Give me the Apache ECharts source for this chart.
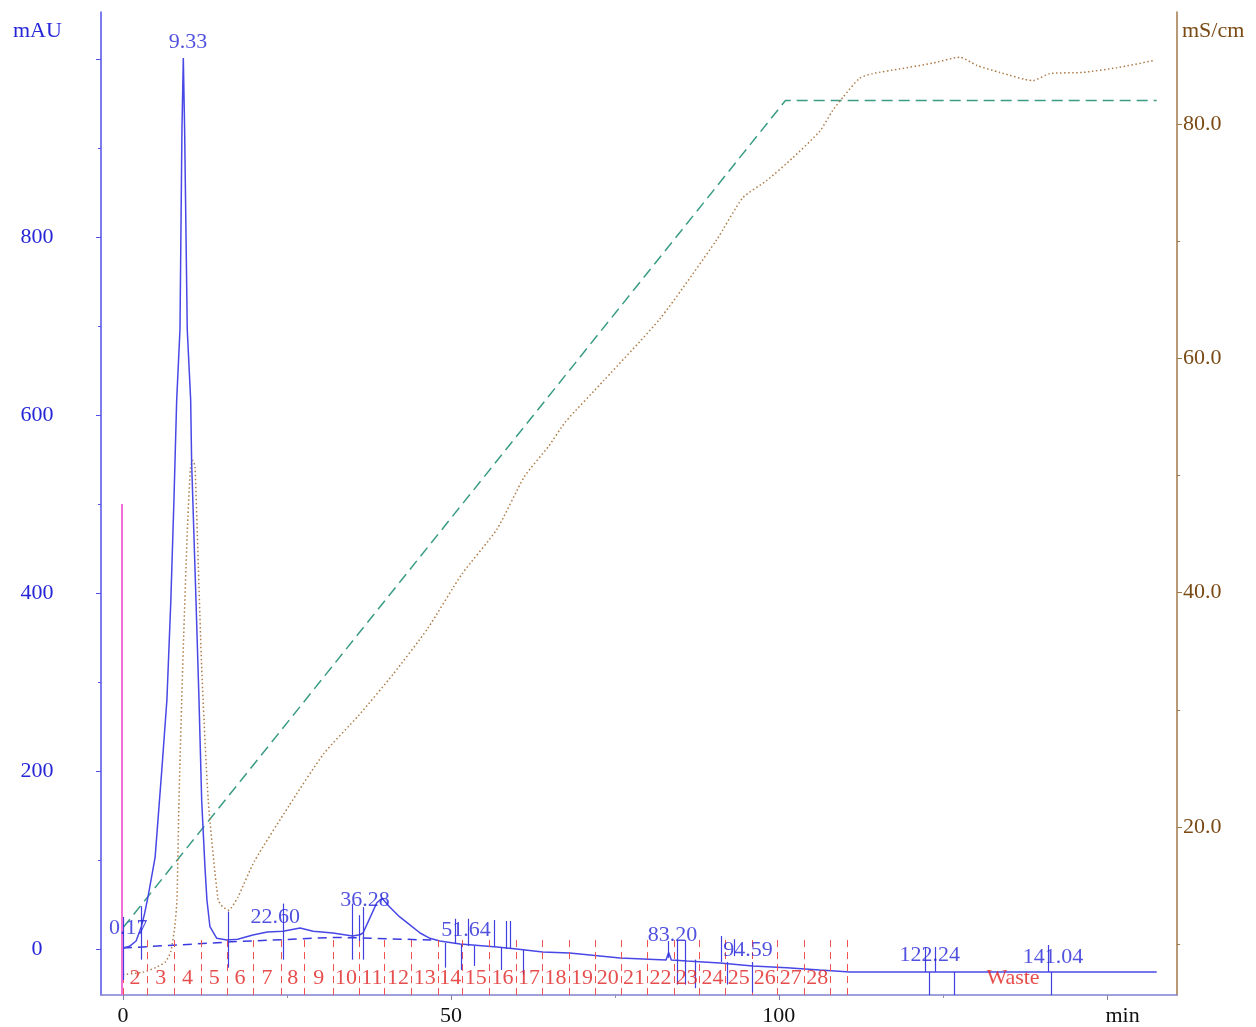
<!DOCTYPE html>
<html><head><meta charset="utf-8">
<script src="https://cdn.jsdelivr.net/npm/echarts@6/dist/echarts.min.js"></script>
<style>html,body{margin:0;padding:0;background:#fff}#c{width:1256px;height:1027px}</style>
</head><body><div id="c"></div>
<script>
// ---- data ----
const uvData = [[0,1],[1,3],[2,9],[2.8,25],[3.3,40],[3.8,58],[4.9,103],[5.95,204],[6.7,280],[7.3,392],[7.77,504],[8.19,617],[8.69,696],[8.99,920],[9.2,1001],[9.4,920],[9.8,696],[10.32,617],[10.47,546],[11.13,392],[11.59,280],[12.0,167],[12.5,92],[12.8,55],[13.26,25],[14.3,12],[15.85,10],[17.5,11],[19.8,15.7],[22,19],[24.4,20],[27,23.6],[29,20],[32,18],[35,14.6],[36.1,16],[36.6,18],[37.65,35],[38.7,52],[39.5,57],[40.7,47],[42.2,36],[43.75,27],[45.3,18],[46.8,12],[48.3,9],[51.4,5.6],[57,2.2],[60,0],[64,-3.4],[68.1,-4.5],[75.8,-10],[82.8,-12.4],[83.2,-4],[83.6,-12.4],[86,-13.5],[91,-15.7],[96,-19],[101.2,-21],[106.25,-23.6],[110.8,-25.8],[157.6,-25.8]];
const baselineData = [[0,1],[16.5,8],[32,13],[36.5,12.4],[47,10]];
const condData = [[0,7.4],[3,7.6],[5,8.0],[6.5,8.5],[7.3,9.4],[7.9,11.5],[8.23,13.8],[8.54,22.3],[9.1,33.6],[9.8,45.1],[10.3,50.7],[10.67,51.3],[10.98,50.7],[11.33,45.1],[12.0,33.6],[13.0,22.3],[14.5,13.8],[15.2,13.2],[16.1,12.9],[17.5,14.0],[20.06,17.1],[25.3,21.8],[30.6,26.25],[35.9,29.5],[41.2,33.05],[46.4,36.9],[51.7,41.6],[57.0,45.4],[61.2,49.9],[64.9,52.5],[67.5,54.6],[73.3,58.1],[81.9,63.4],[90.5,70.1],[94.5,73.7],[98.2,75.2],[102.1,77.1],[106.25,79.4],[108.2,81.15],[109.8,82.3],[112.3,83.9],[114.3,84.3],[118.4,84.7],[123.5,85.2],[127.6,85.7],[130.2,85.0],[133.7,84.4],[138.7,83.7],[141.3,84.3],[146.3,84.4],[151.5,84.8],[157.0,85.4]];
const gradData = [[0,11.4],[101,82],[157.6,82]];
const injection = [-0.15, 500];
// [time, top mAU, bottom mAU]
const peakMarkers = [[0,36,-35],[2.8,48,-12],[16.1,42,-21],[24.5,51,-12],[34.9,51,-12],[36.05,38,9],[36.6,47,-12],[49.2,6.7,-21],[50.7,34,5.6],[51.6,5.6,-23.6],[52.7,34,3.4],[53.6,3.4,-19],[56.55,32.6,2.2],[57.6,2.2,-23.6],[58.5,31.5,0],[59.1,31.5,0],[61.1,-1.1,-29],[83.1,9,-10],[84.45,10,-40],[85.8,10,-40],[87.3,-12,-44],[91.2,14.6,-14.6],[92.2,-14.6,-40],[93.2,11,-8],[96.0,-14.6,-49],[122.3,2.2,-25.8],[123.0,-25.8,-51.7],[123.8,2.2,-25.8],[126.7,-25.8,-51.7],[141.0,4.5,-25.8],[141.5,-25.8,-51.7]];
const peakLabels = [[9.9,1019,'9.33'],[0.8,23.6,'0.17'],[23.2,36,'22.60'],[36.9,55,'36.28'],[52.3,21,'51.64'],[83.8,15.7,'83.20'],[95.3,-1,'94.59'],[123,-6.7,'122.24'],[141.8,-9,'141.04']];
const fractionBounds = [0,3.7,7.8,11.9,15.9,19.8,24.1,27.7,32,36,39.9,44,48,51.8,55.8,59.9,63.9,68,71.95,75.9,79.9,84,87.9,91.9,95.9,99.8,103.8,107.9,110.5];
const fractionNames = ['2','3','4','5','6','7','8','9','10','11','12','13','14','15','16','17','18','19','20','21','22','23','24','25','26','27','28'];
const fractionTop = 10, fractionLabelY = -32.6;
const wasteLabel = [135.7, -32.6, 'Waste'];
const xTickValues = [0,50,100,150], xMinorTicks = [25,75,125];
const xLabelValues = [0,50,100,152.4];
const yLeftLabels = [0,200,400,600,800], yLeftTicks = [0,200,400,600,800,1000], yLeftMinor = [100,300,500,700,900];
const yRightLabels = [20,40,60,80], yRightMinor = [10,30,50,70];
const X_MIN = -3.35, X_MAX = 160.7, YL_MIN = -51.7, YL_MAX = 1052.8, YR_MIN = 5.66, YR_MAX = 89.56;

// ---- build ----
const FONT = 'Liberation Serif';
const BLUE = '#4848e6', BLUE_T = '#2626d8', BROWN = '#ad7c48', BROWN_T = '#7a4a14';

const markLines = [];
fractionBounds.forEach(t => markLines.push([{coord:[t,fractionTop], lineStyle:{color:'#f05050', type:[7,5], width:1}},{coord:[t,YL_MIN]}]));
peakMarkers.forEach(m => markLines.push([{coord:[m[0],m[1]], lineStyle:{color:'#4040e0', type:'solid', width:1.2}},{coord:[m[0],m[2]]}]));
markLines.push([{coord:[injection[0],YL_MIN], lineStyle:{color:'#f070d8', type:'solid', width:2}},{coord:[injection[0],injection[1]]}]);

const fracLabelData = fractionNames.map((n,i)=>[(fractionBounds[i]+fractionBounds[i+1])/2, fractionLabelY, n]);
fracLabelData.push(wasteLabel);

const chart = echarts.init(document.getElementById('c'), null, {renderer:'canvas'});
const axisCommon = {splitLine:{show:false}};
chart.setOption({
  animation:false,
  backgroundColor:'#fff',
  textStyle:{fontFamily:FONT},
  grid:{left:101,right:79,top:12,bottom:32,outerBoundsMode:'none'},
  xAxis:[
    {type:'value',min:X_MIN,max:X_MAX,position:'bottom',...axisCommon,
     axisLine:{show:true,onZero:false,lineStyle:{color:'#8080d0',width:1.5}},
     axisTick:{show:true,customValues:xTickValues,length:5,lineStyle:{color:'#8080a8'}},
     axisLabel:{customValues:xLabelValues,margin:10,color:'#111',fontSize:22,fontFamily:FONT,
       formatter:v=> v>150?'min':String(v)}},
    {type:'value',min:X_MIN,max:X_MAX,position:'bottom',...axisCommon,
     axisLine:{show:false,onZero:false},axisTick:{show:true,customValues:xMinorTicks,length:3,lineStyle:{color:'#9090a8'}},
     axisLabel:{show:false}}
  ],
  yAxis:[
    {type:'value',min:YL_MIN,max:YL_MAX,position:'left',...axisCommon,
     axisLine:{show:true,onZero:false,lineStyle:{color:'#5050e8',width:1.5}},
     axisTick:{show:true,customValues:yLeftTicks,length:5,lineStyle:{color:'#5050e8'}},
     axisLabel:{customValues:yLeftLabels,align:'center',margin:64,color:BLUE_T,fontSize:22,fontFamily:FONT}},
    {type:'value',min:YL_MIN,max:YL_MAX,position:'left',...axisCommon,
     axisLine:{show:false,onZero:false},axisTick:{show:true,customValues:yLeftMinor,length:3,lineStyle:{color:'#5050e8'}},
     axisLabel:{show:false}},
    {type:'value',min:YR_MIN,max:YR_MAX,position:'right',...axisCommon,
     axisLine:{show:true,onZero:false,lineStyle:{color:'#a07848',width:1.5}},
     axisTick:{show:true,customValues:yRightLabels,length:5,lineStyle:{color:'#a07848'}},
     axisLabel:{customValues:yRightLabels,margin:6,color:BROWN_T,fontSize:22,fontFamily:FONT,formatter:v=>v.toFixed(1)}},
    {type:'value',min:YR_MIN,max:YR_MAX,position:'right',...axisCommon,
     axisLine:{show:false,onZero:false},axisTick:{show:true,customValues:yRightMinor,length:3,lineStyle:{color:'#a07848'}},
     axisLabel:{show:false}}
  ],
  graphic:[
    {type:'text',left:13,top:20,style:{text:'mAU',fill:BLUE_T,font:'22px "Liberation Serif"'}},
    {type:'text',left:1182,top:20,style:{text:'mS/cm',fill:BROWN_T,font:'22px "Liberation Serif"'}}
  ],
  series:[
    {name:'grad',type:'line',xAxisIndex:0,yAxisIndex:2,data:gradData,showSymbol:false,symbol:'none',
     lineStyle:{color:'#3a9c84',width:1.5,type:[11,6]},z:2},
    {name:'cond',type:'line',xAxisIndex:0,yAxisIndex:2,data:condData,showSymbol:false,symbol:'none',smooth:0.2,
     lineStyle:{color:BROWN,width:1.5,type:[1.5,2.5]},z:2},
    {name:'base',type:'line',xAxisIndex:0,yAxisIndex:0,data:baselineData,showSymbol:false,symbol:'none',
     lineStyle:{color:'#3a3ae0',width:1.5,type:[9,6]},z:3},
    {name:'uv',type:'line',xAxisIndex:0,yAxisIndex:0,data:uvData,showSymbol:false,symbol:'none',
     lineStyle:{color:BLUE,width:1.5},z:4,
     markLine:{silent:true,symbol:['none','none'],label:{show:false},animation:false,data:markLines}},
    {name:'peaklabels',type:'scatter',xAxisIndex:0,yAxisIndex:0,data:peakLabels,symbolSize:0,silent:true,z:6,
     label:{show:true,position:'inside',formatter:p=>p.data[2],color:BLUE_T,fontSize:22,fontFamily:FONT}},
    {name:'fraclabels',type:'scatter',xAxisIndex:0,yAxisIndex:0,data:fracLabelData,symbolSize:0,silent:true,z:6,
     label:{show:true,position:'inside',formatter:p=>p.data[2],color:'#e02020',fontSize:22,fontFamily:FONT}}
  ]
});
</script></body></html>
